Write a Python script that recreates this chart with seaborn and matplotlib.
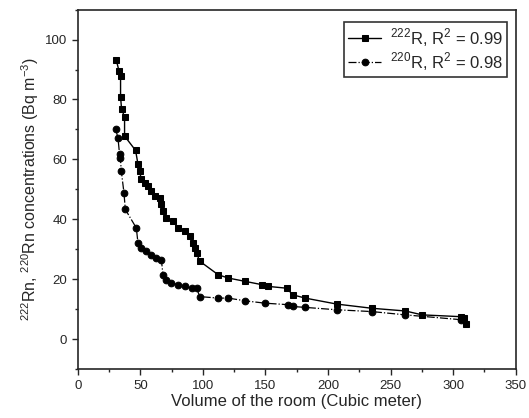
import numpy as np
import pandas as pd
import matplotlib
matplotlib.use("Agg")
import matplotlib.pyplot as plt
import seaborn as sns
from matplotlib.ticker import MultipleLocator

# 222Rn series (squares)
rn222_volume = [30.7, 32.9, 34.2, 34.2, 35.0, 37.4, 37.4, 46.2, 48.1, 49.4, 50.8, 53.4,
                56.1, 58.8, 61.5, 65.5, 66.8, 68.1, 70.8, 76.1, 80.1, 85.5, 89.5, 92.1,
                93.5, 94.9, 97.5, 112.2, 120.2, 133.6, 146.9, 152.2, 167.0, 171.8,
                181.7, 207.0, 235.1, 261.8, 275.2, 305.9, 308.5, 309.9]
rn222_conc = [93.3, 89.6, 87.9, 80.9, 76.8, 74.2, 67.8, 63.0, 58.4, 56.1, 53.3, 52.2,
              51.1, 49.4, 47.7, 47.2, 45.0, 42.7, 40.5, 39.4, 37.1, 36.0, 34.3, 32.1,
              30.4, 28.7, 26.0, 21.5, 20.4, 19.3, 18.2, 17.6, 17.0, 14.8,
              13.7, 11.7, 10.3, 9.4, 8.1, 7.5, 7.0, 5.0]

# 220Rn series (circles)
rn220_volume = [30.2, 32.1, 33.4, 34.0, 34.8, 36.9, 38.0, 46.8, 48.1, 50.8, 54.8, 58.8,
                62.8, 66.8, 68.1, 70.8, 74.8, 80.1, 85.5, 90.9, 94.9, 97.5, 112.2,
                120.2, 133.6, 149.6, 168.3, 171.8, 181.7, 207.0, 235.1, 261.8, 306.0]
rn220_conc = [70.1, 67.3, 61.7, 60.6, 56.1, 48.9, 43.3, 37.1, 32.1, 30.4, 29.3, 28.2,
              27.1, 26.5, 21.5, 19.8, 18.7, 18.2, 17.6, 17.0, 17.0, 14.2, 13.7,
              13.7, 12.8, 12.0, 11.5, 10.9, 10.6, 9.8, 9.2, 8.1, 6.5]

labels = [r"$^{222}$R, R$^{2}$ = 0.99", r"$^{220}$R, R$^{2}$ = 0.98"]

df1 = pd.DataFrame({"volume": rn222_volume, "conc": rn222_conc})
df2 = pd.DataFrame({"volume": rn220_volume, "conc": rn220_conc})

sns.set_style("ticks")
plt.rcParams["font.family"] = ["Liberation Sans", "DejaVu Sans"]
plt.rcParams["mathtext.fontset"] = "custom"
plt.rcParams["mathtext.rm"] = "Liberation Sans"

fig = plt.figure(figsize=(5.29, 4.18), dpi=100)
ax = fig.add_axes([0.147, 0.117, 0.828, 0.860])

sns.lineplot(data=df1, x="volume", y="conc", ax=ax, sort=False, estimator=None,
             color="black", lw=1.0, marker="s", markersize=4.8, markeredgecolor="black",
             label=labels[0])
sns.lineplot(data=df2, x="volume", y="conc", ax=ax, sort=False, estimator=None,
             color="black", lw=0.9, linestyle="-.", marker="o", markersize=4.8,
             markeredgecolor="black", label=labels[1])

ax.set_xlim(0, 350)
ax.set_ylim(-10, 110)
ax.xaxis.set_major_locator(MultipleLocator(50))
ax.xaxis.set_minor_locator(MultipleLocator(25))
ax.yaxis.set_major_locator(MultipleLocator(20))
ax.yaxis.set_minor_locator(MultipleLocator(10))
ax.tick_params(which="major", direction="out", length=4, width=1, labelsize=9.5)
ax.tick_params(which="minor", direction="out", length=2.5, width=1)
for s in ax.spines.values():
    s.set_linewidth(1.2)
    s.set_visible(True)

ax.set_xlabel("Volume of the room (Cubic meter)", fontsize=12, labelpad=2)
ax.set_ylabel(r"$^{222}$Rn, $^{220}$Rn concentrations (Bq m$^{-3}$)", fontsize=11.5,
              labelpad=3)

leg = ax.legend(loc="upper right", fontsize=12, frameon=True, fancybox=False,
                edgecolor="black", handlelength=2.0, handletextpad=0.5,
                borderpad=0.25, labelspacing=0.1, borderaxespad=0.0,
                bbox_to_anchor=(0.98, 0.966))
leg.get_frame().set_linewidth(1.2)

fig.savefig("out.png", dpi=100)
